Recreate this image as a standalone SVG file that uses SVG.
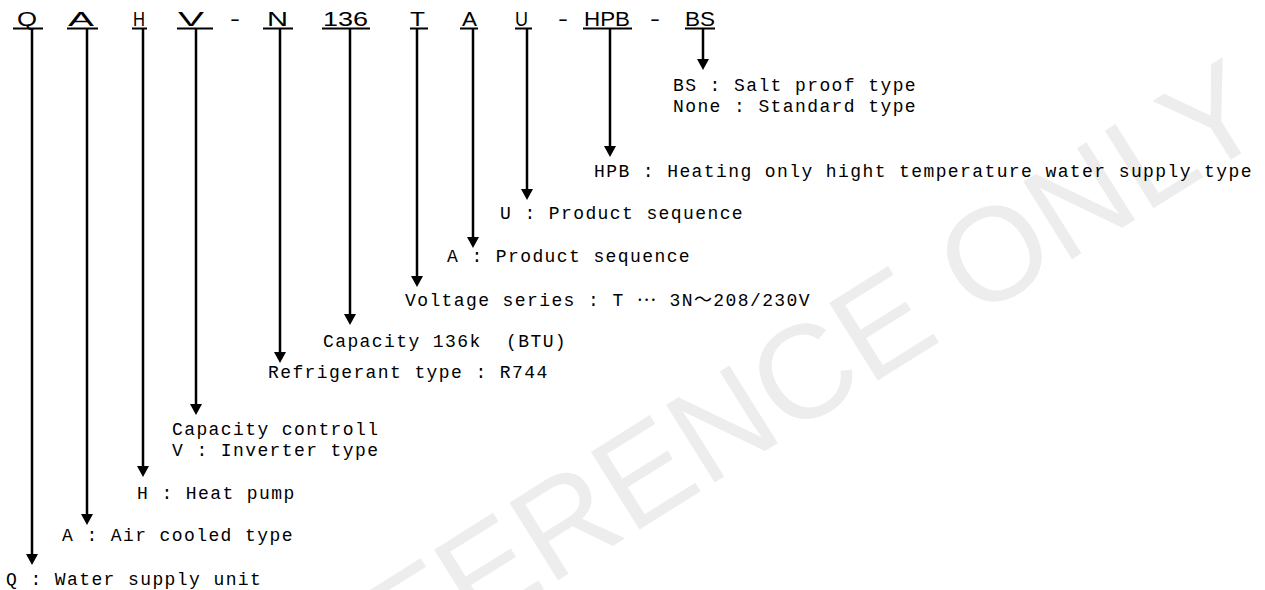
<svg xmlns="http://www.w3.org/2000/svg" width="1265" height="590" viewBox="0 0 1265 590">
<style>
.code{font-family:"Liberation Sans",Arial,sans-serif;font-size:20px;fill:#000}
.lbl{font-family:"Liberation Mono","DejaVu Sans Mono","Noto Sans CJK JP",monospace;font-size:18px;letter-spacing:1.4px;fill:#000}
.cjk{font-family:"Noto Sans CJK JP",sans-serif}
.conn line{stroke:#000;stroke-width:2.5;marker-end:url(#ah)}
.ul{fill:#000}
.wm{font-family:"Liberation Sans",Arial,sans-serif;font-size:133px;fill:#ededed}
</style>
<defs>
<marker id="ah" viewBox="0 0 11 12" refX="0" refY="6" markerWidth="11" markerHeight="12" markerUnits="userSpaceOnUse" orient="auto">
<path d="M0,0 L11,6 L0,12 z" fill="#000"/>
</marker>
</defs>
<rect width="1265" height="590" fill="#fff"/>
<text class="wm" x="0" y="0" transform="translate(248,774) rotate(-32)">REFERENCE ONLY</text>

<g id="code">
<text class="code" x="17" y="26" textLength="20" lengthAdjust="spacingAndGlyphs">Q</text>
<rect class="ul" x="13" y="27.5" width="30" height="2"/>
<text class="code" x="68" y="26" textLength="26" lengthAdjust="spacingAndGlyphs">A</text>
<rect class="ul" x="67" y="27.5" width="31" height="2"/>
<text class="code" x="133" y="26" textLength="12" lengthAdjust="spacingAndGlyphs">H</text>
<rect class="ul" x="132" y="27.5" width="15" height="2"/>
<text class="code" x="178" y="26" textLength="26" lengthAdjust="spacingAndGlyphs">V</text>
<rect class="ul" x="177" y="27.5" width="36" height="2"/>
<text class="code" x="230" y="26" textLength="10" lengthAdjust="spacingAndGlyphs">-</text>
<text class="code" x="267" y="26" textLength="21" lengthAdjust="spacingAndGlyphs">N</text>
<rect class="ul" x="263" y="27.5" width="30" height="2"/>
<text class="code" x="323" y="26" textLength="45" lengthAdjust="spacingAndGlyphs">136</text>
<rect class="ul" x="322" y="27.5" width="48" height="2"/>
<text class="code" x="410" y="26" textLength="15" lengthAdjust="spacingAndGlyphs">T</text>
<rect class="ul" x="410" y="27.5" width="18" height="2"/>
<text class="code" x="462" y="26" textLength="15" lengthAdjust="spacingAndGlyphs">A</text>
<rect class="ul" x="460" y="27.5" width="18" height="2"/>
<text class="code" x="515" y="26" textLength="13" lengthAdjust="spacingAndGlyphs">U</text>
<rect class="ul" x="515" y="27.5" width="17" height="2"/>
<text class="code" x="558" y="26" textLength="10" lengthAdjust="spacingAndGlyphs">-</text>
<text class="code" x="584" y="26" textLength="46" lengthAdjust="spacingAndGlyphs">HPB</text>
<rect class="ul" x="583" y="27.5" width="49" height="2"/>
<text class="code" x="650" y="26" textLength="10" lengthAdjust="spacingAndGlyphs">-</text>
<text class="code" x="685" y="26" textLength="30" lengthAdjust="spacingAndGlyphs">BS</text>
<rect class="ul" x="685" y="27.5" width="30" height="2"/>
</g>

<g class="conn" id="connectors">
<line x1="32" y1="29" x2="32" y2="554"/>
<line x1="87" y1="29" x2="87" y2="514"/>
<line x1="143" y1="29" x2="143" y2="466"/>
<line x1="196" y1="29" x2="196" y2="404"/>
<line x1="280" y1="29" x2="280" y2="352"/>
<line x1="350" y1="29" x2="350" y2="314"/>
<line x1="417" y1="29" x2="417" y2="276"/>
<line x1="473" y1="29" x2="473" y2="237"/>
<line x1="527" y1="29" x2="527" y2="189"/>
<line x1="610" y1="29" x2="610" y2="146"/>
<line x1="703" y1="29" x2="703" y2="59"/>
</g>

<g id="n-bs"><text class="lbl" x="673" y="91">BS : Salt proof type</text><text class="lbl" x="673" y="112">None : Standard type</text></g>
<g id="n-hpb"><text class="lbl" x="594" y="177">HPB : Heating only hight temperature water supply type</text></g>
<g id="n-u"><text class="lbl" x="500" y="219">U : Product sequence</text></g>
<g id="n-a2"><text class="lbl" x="447" y="262">A : Product sequence</text></g>
<g id="n-t"><text class="lbl" x="405" y="306">Voltage series : T <tspan class="cjk" dy="-5">…</tspan><tspan dy="5"> 3N</tspan><tspan class="cjk">～</tspan>208/230V</text></g>
<g id="n-136"><text class="lbl" x="323" y="347" xml:space="preserve">Capacity 136k  (BTU)</text></g>
<g id="n-n"><text class="lbl" x="268" y="378">Refrigerant type : R744</text></g>
<g id="n-v"><text class="lbl" x="172" y="435">Capacity controll</text><text class="lbl" x="172" y="456">V : Inverter type</text></g>
<g id="n-h"><text class="lbl" x="137" y="499">H : Heat pump</text></g>
<g id="n-a"><text class="lbl" x="62" y="541">A : Air cooled type</text></g>
<g id="n-q"><text class="lbl" x="6" y="585">Q : Water supply unit</text></g>
</svg>
